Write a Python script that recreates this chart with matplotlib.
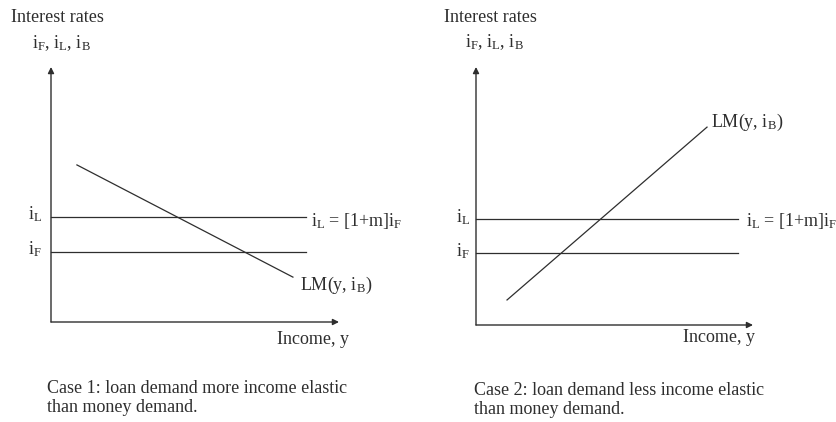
import matplotlib
matplotlib.use("Agg")
from matplotlib import pyplot as plt

plt.rcParams['font.family'] = ['Liberation Serif', 'DejaVu Serif']
plt.rcParams['mathtext.fontset'] = 'custom'
plt.rcParams['mathtext.rm'] = 'Liberation Serif'
plt.rcParams['mathtext.it'] = 'Liberation Serif:italic'

# diagram values (income, rate) on a 0..10 scale for each case
cases = ["Case 1: loan demand more income elastic\nthan money demand.",
         "Case 2: loan demand less income elastic\nthan money demand."]
i_L = [4.1, 4.1]
i_F = [2.75, 2.8]
rate_line_end = [8.85, 9.45]
lm_x = [[0.9, 8.4], [1.12, 8.34]]
lm_y = [[6.16, 1.76], [0.97, 7.67]]

W, H = 837, 422
fig = plt.figure(figsize=(W / 100, H / 100), dpi=100)
ink = '#2e2e2e'
fs = 13.0

def px(x, y):
    return x / W, 1 - y / H

def txt(x, y, s, **kw):
    fx, fy = px(x, y)
    fig.text(fx, fy, s, fontsize=fs, color=ink, va='center', ha='left', **kw)

# axes frames in pixels: origin x, origin y, x arrow tip, y arrow tip
frames = [(51, 322, 339, 67), (476, 325, 753, 67)]
# text positions in pixels per panel
labels = [
    dict(title=(11, 18), sub=(32, 43), iL=(28, 214), iF=(28, 249), eq=(311, 221),
         lm=(300, 285), inc=(277, 340), cap=(47, 398)),
    dict(title=(444, 17), sub=(465, 42), iL=(456, 217), iF=(456, 251), eq=(746, 221),
         lm=(711, 122), inc=(683, 337), cap=(474, 400)),
]

for k in range(2):
    x0, y0, x1, y1 = frames[k]
    l0, b0 = px(x0, y0)
    l1, b1 = px(x1, y1)
    ax = fig.add_axes([l0, b0, l1 - l0, b1 - b0])
    ax.set_xlim(0, 10)
    ax.set_ylim(0, 10)
    ax.axis('off')

    # axes with arrowheads
    ax.annotate('', xy=(0, 10), xytext=(0, 0),
                arrowprops=dict(arrowstyle='-|>', lw=1.0, color=ink, mutation_scale=9,
                                shrinkA=0, shrinkB=0), annotation_clip=False)
    ax.annotate('', xy=(10, 0), xytext=(0, 0),
                arrowprops=dict(arrowstyle='-|>', lw=1.0, color=ink, mutation_scale=9,
                                shrinkA=0, shrinkB=0), annotation_clip=False)

    ax.plot([0, rate_line_end[k]], [i_L[k], i_L[k]], color=ink, lw=0.9, clip_on=False)
    ax.plot([0, rate_line_end[k]], [i_F[k], i_F[k]], color=ink, lw=0.9, clip_on=False)
    ax.plot(lm_x[k], lm_y[k], color=ink, lw=0.9, clip_on=False)

    lb = labels[k]
    txt(*lb['title'], 'Interest rates')
    txt(*lb['sub'], r'i$_\mathrm{F}$, i$_\mathrm{L}$, i$_\mathrm{B}$')
    txt(*lb['iL'], r'i$_\mathrm{L}$')
    txt(*lb['iF'], r'i$_\mathrm{F}$')
    txt(*lb['eq'], r'i$_\mathrm{L}$ = [1+m]i$_\mathrm{F}$')
    txt(*lb['lm'], r'LM(y, i$_\mathrm{B}$)')
    txt(*lb['inc'], 'Income, y')
    fx, fy = px(*lb['cap'])
    fig.text(fx, fy, cases[k], fontsize=fs, color=ink, va='center', ha='left',
             linespacing=1.22)

fig.savefig('out.png', dpi=100)
